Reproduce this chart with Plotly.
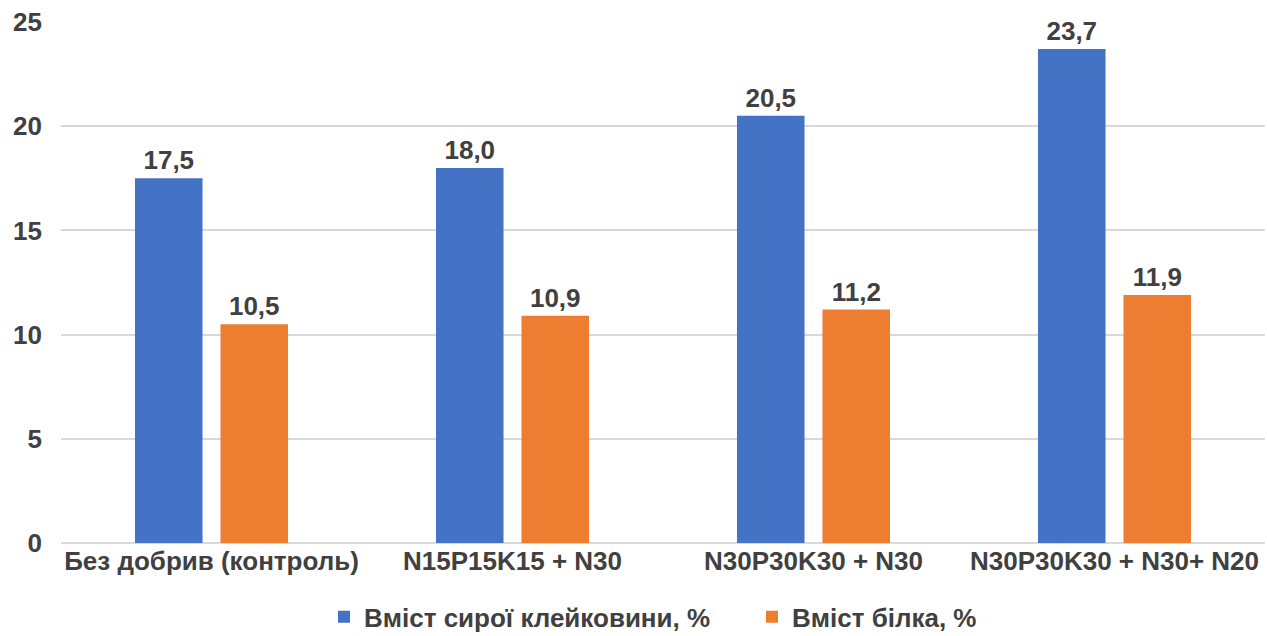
import plotly.graph_objects as go

categories = ["Без добрив (контроль)", "N15P15K15 + N30", "N30P30K30 + N30", "N30P30K30 + N30+ N20"]
gluten = [17.5, 18.0, 20.5, 23.7]
protein = [10.5, 10.9, 11.2, 11.9]
series_names = ["Вміст сирої клейковини, %", "Вміст білка, %"]
y_ticks = [0, 5, 10, 15, 20, 25]

FONT = "Liberation Sans, Arial, sans-serif"
TEXT = "#404040"
SIZE = 26


def fmt(v):
    return f"{v:.1f}".replace(".", ",")


fig = go.Figure()
for name, vals, color in [(series_names[0], gluten, "#4472C4"), (series_names[1], protein, "#ED7D31")]:
    fig.add_trace(go.Bar(
        x=categories, y=vals, name=name,
        marker=dict(color=color, line=dict(width=0)),
        text=[fmt(v) for v in vals], textposition="outside",
        textfont=dict(family=FONT, size=SIZE, color=TEXT, weight="bold"),
        cliponaxis=False,
    ))

fig.update_layout(
    width=1267, height=636,
    margin=dict(l=61, r=2, t=22, b=93, autoexpand=False),
    paper_bgcolor="white", plot_bgcolor="white",
    barmode="group", bargap=0.432, bargroupgap=0.21,
    font=dict(family=FONT, size=SIZE, color=TEXT),
    showlegend=True,
    legend=dict(orientation="h", x=324 / 1267, xanchor="left", xref="container",
                y=0.03, yanchor="middle", yref="container",
                font=dict(family=FONT, size=SIZE, color=TEXT, weight="bold"),
                bgcolor="rgba(0,0,0,0)",
                traceorder="normal", itemwidth=30, entrywidth=383),
    xaxis=dict(showgrid=False, showline=False, ticks="",
               tickfont=dict(family=FONT, size=SIZE, color=TEXT, weight="bold")),
    yaxis=dict(range=[0, 25], tickvals=y_ticks, showgrid=True, gridcolor="#D9D9D9", gridwidth=1.5,
               zeroline=True, zerolinecolor="#D9D9D9", zerolinewidth=1.5, showline=False, ticks="",
               ticklabelstandoff=18,
               tickfont=dict(family=FONT, size=SIZE, color=TEXT, weight="bold")),
)

fig.write_html("out.html")
